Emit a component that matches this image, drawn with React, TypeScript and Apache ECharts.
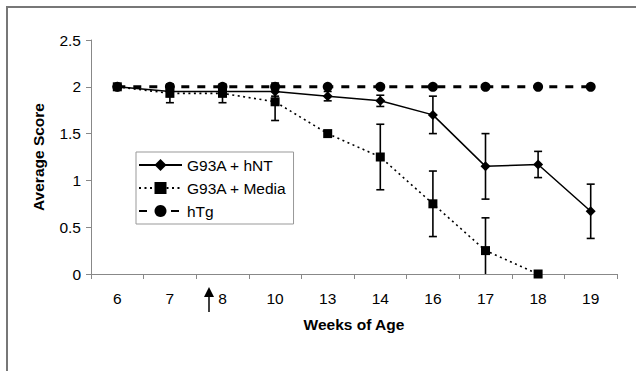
import React, { useEffect, useRef } from "react";
import * as echarts from "echarts";

const weeks = ["6", "7", "8", "10", "13", "14", "16", "17", "18", "19"];
const hNT = [2, 1.95, 1.95, 1.95, 1.9, 1.85, 1.7, 1.15, 1.17, 0.67];
const hNTErr = [0, 0.05, 0.05, 0.05, 0.05, 0.06, 0.2, 0.35, 0.14, 0.29];
const media = [2, 1.93, 1.93, 1.84, 1.5, 1.25, 0.75, 0.25, 0, null];
const mediaErr = [0, 0.1, 0.1, 0.2, 0, 0.35, 0.35, 0.35, 0, 0];
const hTg = [2, 2, 2, 2, 2, 2, 2, 2, 2, 2];
const yTicks = [0, 0.5, 1, 1.5, 2, 2.5];
const arrowWeek = "8";

const FONT = 'Arial, "Liberation Sans", sans-serif';
const FS = 15.5;

function errData(vals: (number | null)[], errs: number[]) {
  const out: number[][] = [];
  vals.forEach((v, i) => {
    if (v != null && errs[i] > 0) out.push([i, v - errs[i], v + errs[i]]);
  });
  return out;
}

function errRender(params: any, api: any) {
  const x = api.value(0);
  const lo = api.value(1);
  const hi = api.value(2);
  const loC = Math.max(lo, 0);
  const top = api.coord([x, hi]);
  const bot = api.coord([x, loC]);
  const hw = 4;
  const style = { stroke: "#000", lineWidth: 1.6 };
  const children: any[] = [
    { type: "line", shape: { x1: top[0], y1: top[1], x2: bot[0], y2: bot[1] }, style },
    { type: "line", shape: { x1: top[0] - hw, y1: top[1], x2: top[0] + hw, y2: top[1] }, style },
  ];
  if (lo >= 0) {
    children.push({ type: "line", shape: { x1: bot[0] - hw, y1: bot[1], x2: bot[0] + hw, y2: bot[1] }, style });
  }
  return { type: "group", children };
}

export default function App() {
  const ref = useRef<HTMLDivElement>(null);
  useEffect(() => {
    if (!ref.current) return;
    const chart = echarts.init(ref.current, undefined, { renderer: "svg" });
    chart.setOption({
      animation: false,
      backgroundColor: "#fff",
      grid: { left: 91, right: 19, top: 40, bottom: 97 },
      legend: {
        orient: "vertical",
        left: 136,
        top: 152,
        data: ["G93A + hNT", "G93A + Media", "hTg"],
        itemWidth: 43,
        itemHeight: 15,
        itemGap: 7,
        padding: [5, 7, 5, 2],
        borderColor: "#999",
        borderWidth: 1,
        backgroundColor: "#fff",
        textStyle: { fontFamily: FONT, fontSize: FS, lineHeight: 15, color: "#000" },
      },
      xAxis: {
        type: "category",
        data: weeks,
        boundaryGap: true,
        axisLine: { lineStyle: { color: "#888", width: 1 } },
        axisTick: { show: true, length: 5, lineStyle: { color: "#888" } },
        axisLabel: { fontFamily: FONT, fontSize: FS, color: "#000", margin: 16 },
        name: "Weeks of Age",
        nameLocation: "middle",
        nameGap: 42,
        nameTextStyle: { fontFamily: FONT, fontSize: FS, fontWeight: "bold", color: "#000", verticalAlign: "top" },
        splitLine: { show: false },
      },
      yAxis: {
        type: "value",
        min: yTicks[0],
        max: yTicks[yTicks.length - 1],
        interval: 0.5,
        axisLine: { show: true, lineStyle: { color: "#888", width: 1 } },
        axisTick: { show: true, length: 5, lineStyle: { color: "#888" } },
        axisLabel: { fontFamily: FONT, fontSize: FS, color: "#000", margin: 10 },
        splitLine: { show: false },
        name: "Average Score",
        nameLocation: "middle",
        nameRotate: 90,
        nameGap: 45,
        nameTextStyle: { fontFamily: FONT, fontSize: FS, fontWeight: "bold", color: "#000" },
      },
      series: [
        {
          name: "hTg",
          type: "line",
          data: hTg,
          symbol: "circle",
          symbolSize: 10,
          itemStyle: { color: "#000" },
          lineStyle: { color: "#000", width: 3, type: [8, 8] },
          z: 2,
        },
        {
          name: "G93A + hNT",
          type: "line",
          data: hNT,
          symbol: "diamond",
          symbolSize: 10,
          itemStyle: { color: "#000" },
          lineStyle: { color: "#000", width: 1.5, type: "solid" },
          z: 3,
        },
        {
          name: "G93A + Media",
          type: "line",
          data: media,
          symbol: "rect",
          symbolSize: 9,
          itemStyle: { color: "#000" },
          lineStyle: { color: "#000", width: 1.6, type: [2, 3.5] },
          z: 4,
        },
        {
          name: "errHNT",
          type: "custom",
          renderItem: errRender,
          data: errData(hNT, hNTErr),
          encode: { x: 0, y: [1, 2] },
          z: 5,
          silent: true,
        },
        {
          name: "errMedia",
          type: "custom",
          renderItem: errRender,
          data: errData(media, mediaErr),
          encode: { x: 0, y: [1, 2] },
          z: 5,
          silent: true,
        },
      ],
    });
    const ax = chart.convertToPixel({ xAxisIndex: 0 }, arrowWeek) as number;
    const ax0 = chart.convertToPixel({ yAxisIndex: 0 }, 0) as number;
    const arrowX = Math.round(ax - 14);
    chart.setOption({
      graphic: [
        {
          type: "rect",
          shape: { x: 7, y: 7, width: 700, height: 500 },
          style: { fill: "none", stroke: "#777", lineWidth: 2 },
          silent: true,
        },
        {
          type: "line",
          shape: { x1: arrowX, y1: ax0 + 38, x2: arrowX, y2: ax0 + 20 },
          style: { stroke: "#000", lineWidth: 1.5 },
        },
        {
          type: "polygon",
          shape: { points: [[arrowX, ax0 + 13], [arrowX - 5, ax0 + 23], [arrowX + 5, ax0 + 23]] },
          style: { fill: "#000" },
        },
      ],
    });
    return () => chart.dispose();
  }, []);
  return (
    <div
      ref={ref}
      style={{ position: "fixed", left: 0, top: 0, width: 636, height: 371, background: "#fff" }}
    />
  );
}
